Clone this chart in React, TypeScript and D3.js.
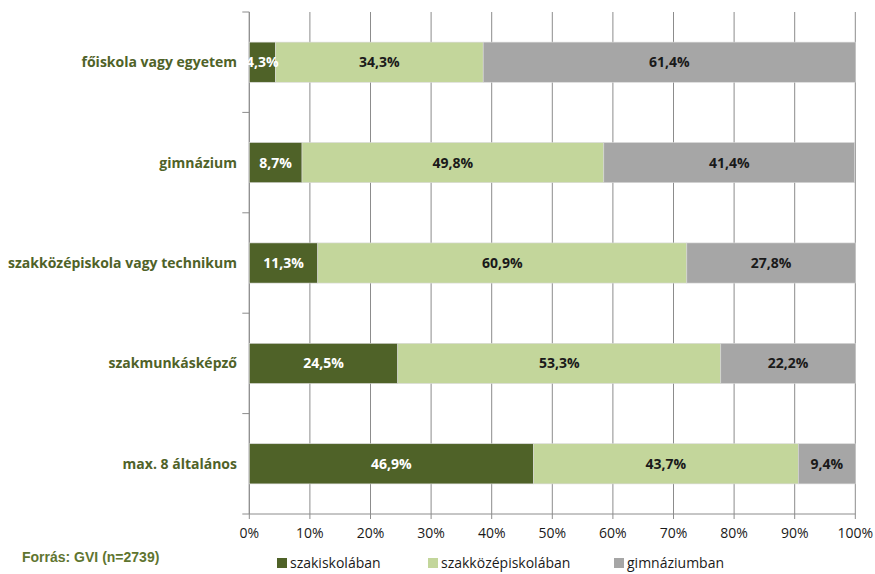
import React from "react";
import * as d3 from "d3";

const categories = [
  "főiskola vagy egyetem",
  "gimnázium",
  "szakközépiskola vagy technikum",
  "szakmunkásképző",
  "max. 8 általános",
];
const seriesNames = ["szakiskolában", "szakközépiskolában", "gimnáziumban"];
const szakiskola = [4.3, 8.7, 11.3, 24.5, 46.9];
const szakkozep = [34.3, 49.8, 60.9, 53.3, 43.7];
const gimnazium = [61.4, 41.4, 27.8, 22.2, 9.4];
const xTicks = [0, 10, 20, 30, 40, 50, 60, 70, 80, 90, 100];
const colors = ["#4F6228", "#C3D69B", "#A6A6A6"];
const labelColors = ["#FFFFFF", "#1a1a1a", "#1a1a1a"];

export default function App() {
  const W = 875, H = 574;
  const left = 249.3, right = 855.3, top = 12, bottom = 514;
  const x = d3.scaleLinear().domain([0, 100]).range([left, right]);
  const y = d3.scaleBand().domain(categories).range([top, bottom]).paddingInner(0.6).paddingOuter(0.3);
  const yOuter = d3.scaleBand().domain(categories).range([top, bottom]);
  const series = [szakiskola, szakkozep, gimnazium];
  const stacked = categories.map((c, i) => {
    let acc = 0;
    return series.map((s, k) => {
      const v = s[i];
      const seg = { k, x0: acc, x1: acc + v, v };
      acc += v;
      return seg;
    });
  });
  const fmt = (v: number) => v.toFixed(1).replace(".", ",") + "%";
  const font = "'Open Sans', 'Noto Sans', sans-serif";
  const boundaries = categories.map((c) => yOuter(c)!).concat([bottom]);
  const legendItems = [
    { x: 277, label: seriesNames[0] },
    { x: 428, label: seriesNames[1] },
    { x: 614, label: seriesNames[2] },
  ];
  return (
    <svg width={W} height={H} style={{ position: "absolute", left: 0, top: 0, background: "#fff" }}>
      {xTicks.map((t) => (
        <line key={"g" + t} x1={x(t)} x2={x(t)} y1={top} y2={bottom + 5} stroke="#8c8c8c" strokeWidth={1} />
      ))}
      <line x1={left} x2={right} y1={bottom} y2={bottom} stroke="#8c8c8c" />
      <line x1={left} x2={left} y1={top} y2={bottom} stroke="#8c8c8c" />
      {boundaries.map((b, i) => (
        <line key={"t" + i} x1={left - 7} x2={left} y1={b} y2={b} stroke="#8c8c8c" />
      ))}
      {categories.map((c, i) => (
        <g key={c}>
          {stacked[i].map((s) => (
            <rect
              key={s.k}
              x={x(s.x0)}
              y={y(c)!}
              width={x(s.x1) - x(s.x0)}
              height={y.bandwidth()}
              fill={colors[s.k]}
              stroke="#d9d9d9"
              strokeWidth={0.6}
            />
          ))}
          {stacked[i].map((s) => (
            <text
              key={"l" + s.k}
              x={(x(s.x0) + x(s.x1)) / 2}
              y={y(c)! + y.bandwidth() / 2}
              dy="0.35em"
              textAnchor="middle"
              fontFamily={font}
              fontWeight="bold"
              fontSize={14}
              fill={labelColors[s.k]}
            >
              {fmt(s.v)}
            </text>
          ))}
          <text
            x={237}
            y={y(c)! + y.bandwidth() / 2}
            dy="0.35em"
            textAnchor="end"
            fontFamily={font}
            fontWeight="bold"
            fontSize={14}
            fill="#4F6228"
          >
            {c}
          </text>
        </g>
      ))}
      {xTicks.map((t) => (
        <text key={"x" + t} x={x(t)} y={538} textAnchor="middle" fontFamily={font} fontSize={14} fill="#1a1a1a">
          {t + "%"}
        </text>
      ))}
      <text x={22} y={562} fontFamily="'Liberation Sans', Arial, sans-serif" fontWeight="bold" fontSize={14} fill="#5F7530">
        Forrás: GVI (n=2739)
      </text>
      {legendItems.map((l, i) => (
        <g key={l.label}>
          <rect x={l.x} y={558} width={10} height={10} fill={colors[i]} />
          <text x={l.x + 13} y={567.5} fontFamily={font} fontSize={14} fill="#1a1a1a">
            {l.label}
          </text>
        </g>
      ))}
    </svg>
  );
}
